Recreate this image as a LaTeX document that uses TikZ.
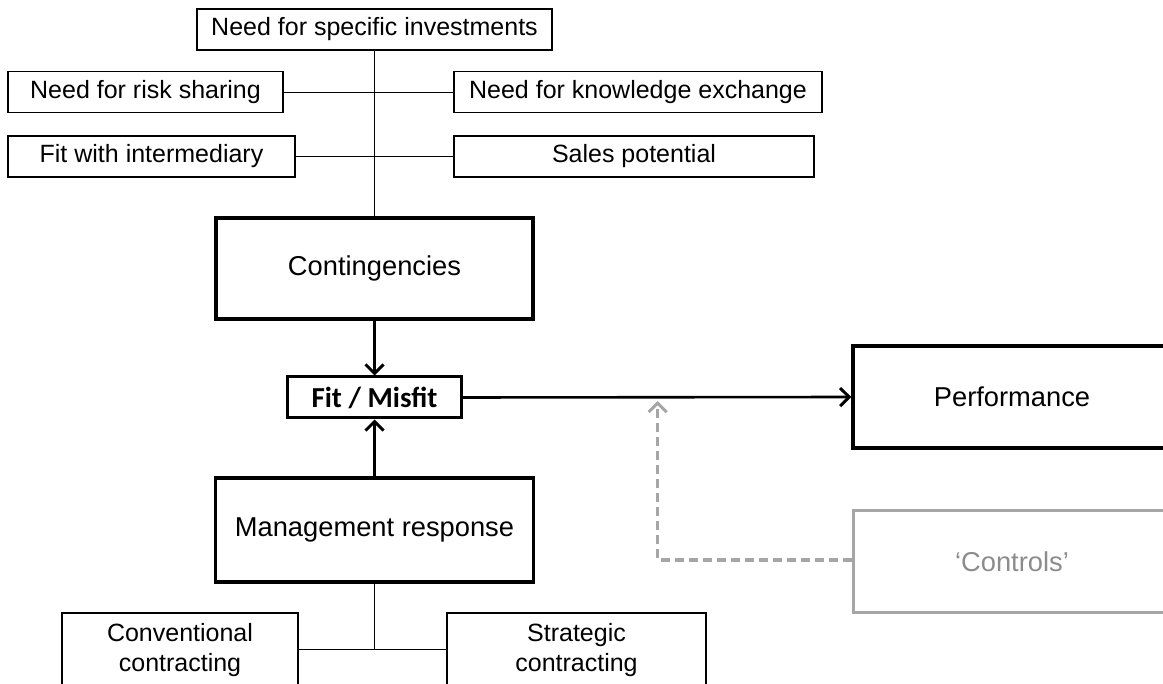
\documentclass[tikz,border=0pt]{standalone}
\usepackage{fontspec}
\setmainfont{Liberation Sans}
\newfontfamily\fitfont{Carlito}
\usetikzlibrary{arrows.meta}
\definecolor{ctrlgray}{HTML}{A6A6A6}
\definecolor{ctrltext}{HTML}{8C8C8C}
\begin{document}
\begin{tikzpicture}[x=1pt,y=-1pt,
  smallbox/.style={draw=black, line width=1.4pt, inner sep=0pt, minimum height=41pt,
    font=\fontsize{25}{30}\selectfont, align=center},
  bigbox/.style={draw=black, line width=3.5pt, inner sep=0pt,
    font=\fontsize{27.3}{32}\selectfont, align=center},
  grayboxstyle/.style={draw=ctrlgray, line width=3pt, inner sep=0pt, text=ctrltext,
    font=\fontsize{27.3}{32}\selectfont, align=center},
  thinline/.style={line width=1.3pt},
  mainarrow/.style={line width=3.5pt, -{Straight Barb[length=9pt,width=18pt,line width=3pt]}},
  perfarrow/.style={line width=2.6pt, -{Straight Barb[length=9pt,width=18pt,line width=3pt]}},
  ctrlarrow/.style={draw=ctrlgray, line width=3.2pt, dash pattern=on 9pt off 5pt,
    -{Straight Barb[length=9pt,width=18pt,line width=3pt]}}
]
\useasboundingbox (0,0) rectangle (1163,684);
\clip (0,0) rectangle (1163,684);

% top cluster
\node[smallbox, minimum width=355pt] (nsi) at (374.5,29.5) {Need for specific investments};
\node[smallbox, minimum width=275pt] (risk) at (145.5,92.3) {Need for risk sharing};
\node[smallbox, minimum width=368pt] (know) at (638,92.3) {Need for knowledge exchange};
\node[smallbox, minimum width=287pt] (fitint) at (151.5,156.5) {Fit with intermediary};
\node[smallbox, minimum width=360pt] (sales) at (634,156.5) {Sales potential};

% main boxes
\node[bigbox, minimum width=317pt, minimum height=101pt] (cont) at (374.5,268.5) {Contingencies};
\node[draw=black, line width=3pt, inner sep=0pt, minimum width=174pt, minimum height=41pt,
      font=\fitfont\bfseries\fontsize{29}{33}\selectfont] (fit) at (374.5,397.5) {Fit / Misfit};
\node[bigbox, minimum width=318pt, minimum height=104pt] (mgmt) at (374.5,530) {Management response};
\node[bigbox, minimum width=318pt, minimum height=102pt] (perf) at (1012,397) {Performance};
\node[grayboxstyle, minimum width=318pt, minimum height=101pt] (ctrl) at (1012,561.5) {`Controls'};

% bottom boxes
\node[smallbox, minimum width=236pt, minimum height=74pt] (conv) at (180,650) {Conventional\\contracting};
\node[smallbox, minimum width=259pt, minimum height=74pt] (strat) at (576.5,650) {Strategic\\contracting};

% connectors top cluster
\draw[thinline] (nsi.south) -- (cont.north);
\draw[thinline] (risk.east) -- (know.west);
\draw[thinline] (fitint.east) -- (sales.west);

% main arrows
\draw[mainarrow] (cont.south) -- (fit.north);
\draw[mainarrow] (mgmt.north) -- (fit.south);
\draw[perfarrow] (fit.east) -- (perf.west);

% controls dashed arrow
\coordinate (cbend) at (657.7,560);
\coordinate (ctip) at (657.7,401);
\draw[ctrlarrow] (ctrl.west |- cbend) -- (cbend) -- (ctip);

% bottom connectors
\coordinate (bj) at (374.5,649.3);
\draw[thinline] (mgmt.south) -- (bj);
\draw[thinline] (conv.east |- bj) -- (strat.west |- bj);
\end{tikzpicture}
\end{document}
